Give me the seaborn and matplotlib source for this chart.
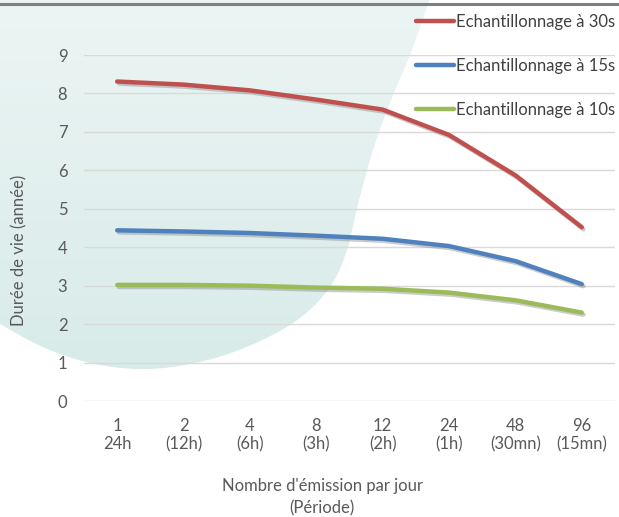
import matplotlib
matplotlib.use("Agg")
import matplotlib.pyplot as plt
import matplotlib.patheffects as pe
from matplotlib.patches import PathPatch
from matplotlib.path import Path
from matplotlib.lines import Line2D
import seaborn as sns
import pandas as pd
import numpy as np

categories = ["1\n24h", "2\n(12h)", "4\n(6h)", "8\n(3h)", "12\n(2h)", "24\n(1h)", "48\n(30mn)", "96\n(15mn)"]
series_names = ["Echantillonnage à 30s", "Echantillonnage à 15s", "Echantillonnage à 10s"]
vals_30s = [8.31, 8.23, 8.08, 7.84, 7.58, 6.92, 5.87, 4.52]
vals_15s = [4.44, 4.41, 4.37, 4.30, 4.22, 4.03, 3.64, 3.04]
vals_10s = [3.02, 3.02, 3.00, 2.95, 2.92, 2.82, 2.62, 2.30]
colors = ["#C0504D", "#4F81BD", "#9BBB59"]

rows = []
for name, vals in zip(series_names, [vals_30s, vals_15s, vals_10s]):
    for i, v in enumerate(vals):
        rows.append({"idx": i, "val": v, "series": name})
df = pd.DataFrame(rows)

sns.set_style("white")
plt.rcParams['font.family'] = ['Lato', 'DejaVu Sans']

W, H = 619, 517
fig = plt.figure(figsize=(W / 100, H / 100), dpi=100)
fig.patch.set_facecolor("white")

# background decoration axes in pixel coordinates
bg = fig.add_axes([0, 0, 1, 1], zorder=-1)
bg.set_xlim(0, W)
bg.set_ylim(H, 0)
bg.axis("off")
outline = np.array([(432, -8), (412, 50), (391, 100), (373, 150), (359, 200), (347, 250),
                    (330, 287), (300, 318), (258, 342), (208, 360), (150, 369), (95, 364),
                    (45, 348), (0, 324), (-12, 316)], dtype=float)
def catmull(pts, n=20):
    P = np.vstack([pts[0], pts, pts[-1]])
    out = []
    for i in range(1, len(P) - 2):
        p0, p1, p2, p3 = P[i - 1], P[i], P[i + 1], P[i + 2]
        t = np.linspace(0, 1, n, endpoint=False)[:, None]
        out.append(0.5 * ((2 * p1) + (-p0 + p2) * t + (2 * p0 - 5 * p1 + 4 * p2 - p3) * t ** 2
                          + (-p0 + 3 * p1 - 3 * p2 + p3) * t ** 3))
    out.append(P[-2][None, :])
    return np.vstack(out)
curve = catmull(outline)
poly = np.vstack([[(-12, -12)], curve, [(-12, -12)]])
blob = PathPatch(Path(poly), facecolor="none", edgecolor="none")
bg.add_patch(blob)
grad = np.linspace(0, 1, 256)[:, None]
c_top = np.array([0xec, 0xf5, 0xf4]) / 255
c_bot = np.array([0xd8, 0xeb, 0xe9]) / 255
img = (c_top[None, None, :] * (1 - grad[:, :, None]) + c_bot[None, None, :] * grad[:, :, None])
im = bg.imshow(img, extent=[-10, 440, 375, -10], aspect="auto", zorder=0)
im.set_clip_path(blob)
bg.set_xlim(0, W)
bg.set_ylim(H, 0)

fig.add_artist(Line2D([0, 1], [1 - 4 / H, 1 - 4 / H], transform=fig.transFigure,
                      color="#7f7f7f", lw=2.2, zorder=1))

ax = fig.add_axes([84 / W, 1 - 401 / H, (615 - 84) / W, (401 - 55) / H])
ax.set_facecolor("none")
ax.patch.set_alpha(0)

sns.lineplot(data=df, x="idx", y="val", hue="series", palette=colors, ax=ax,
             linewidth=3.2, legend=False, zorder=3)
for line in ax.get_lines():
    line.set_solid_capstyle("round")
    line.set_path_effects([pe.SimpleLineShadow(offset=(1.2, -1.5), shadow_color="#8c8c8c", alpha=0.45),
                           pe.Normal()])

ax.set_xlim(-0.5, 7.5)
ax.set_ylim(0, 9)
ax.set_yticks(range(0, 10))
ax.set_xticks(range(len(categories)))
ax.set_xticklabels(categories, linespacing=1.2)
ax.grid(axis="y", color="#d9d9d9", lw=1, zorder=0.5)
ax.set_axisbelow(True)
for s in ax.spines.values():
    s.set_visible(False)
ax.tick_params(axis="both", length=0, labelsize=12, labelcolor="#595959")
ax.tick_params(axis="y", pad=12)
ax.tick_params(axis="x", pad=12)

ax.set_xlabel("Nombre d'émission par jour\n(Période)", fontsize=12, color="#595959", linespacing=1.45)
ax.set_ylabel("Durée de vie (année)", fontsize=12, color="#595959")
ax.xaxis.set_label_coords((322 - 84) / (615 - 84), (401 - 478) / (401 - 55))
ax.yaxis.set_label_coords((27 - 84) / (615 - 84), (401 - 250) / (401 - 55))

handles = [Line2D([0], [0], color=c, lw=3.2) for c in colors]
leg = fig.legend(handles, series_names, loc="upper left", bbox_to_anchor=(409 / W, 1 - 7 / H),
                 frameon=False, fontsize=12, labelcolor="#404040", handlelength=2.3,
                 handletextpad=0.1, labelspacing=1.68, borderaxespad=0)

fig.savefig("out.png", dpi=100, facecolor="white")
